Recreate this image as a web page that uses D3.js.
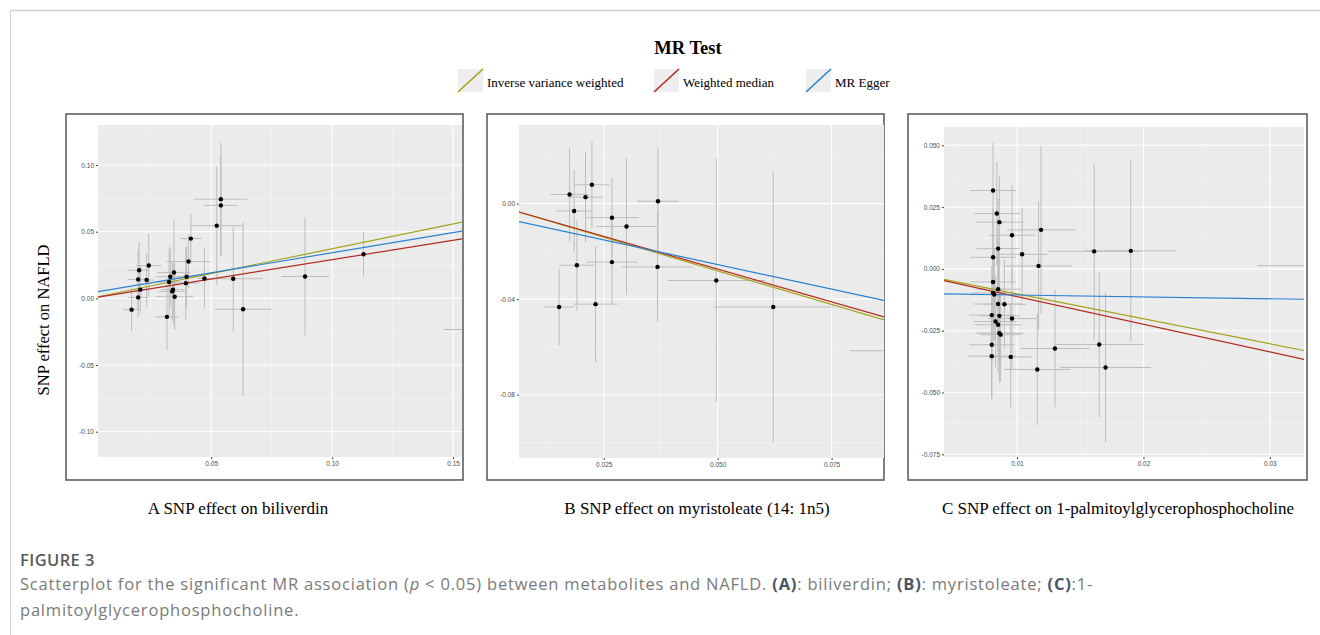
<!DOCTYPE html>
<html>
<head>
<meta charset="utf-8">
<script src="https://cdn.jsdelivr.net/npm/d3@7"></script>
<style>
  body { margin: 0; background: #fff; }
  svg { display: block; }
</style>
</head>
<body>
<div id="chart"></div>
<script>
// MR methods shown as lines in every panel
const methods = ["Inverse variance weighted", "Weighted median", "MR Egger"];
const methodColors = ["#a5a31a", "#b8281f", "#2a80d0"];

// panel A: biliverdin  (x = SNP effect on exposure, y = SNP effect on NAFLD)
const bilX  = [0.0171,0.0198,0.0202,0.0198,0.0207,0.0233,0.0242,0.0317,0.0326,0.0331,0.0339,0.0342,0.0346,0.0349,0.0395,0.0398,0.0406,0.0416,0.0472,0.0523,0.0540,0.0540,0.0591,0.0632,0.0888,0.1130,0.1660];
const bilY  = [-0.0085,0.0142,0.0211,0.0007,0.0065,0.0137,0.0246,-0.0139,0.0122,0.0162,0.0052,0.0065,0.0194,0.0012,0.0114,0.0162,0.0276,0.0448,0.0149,0.0545,0.0697,0.0744,0.0147,-0.0082,0.0164,0.0331,-0.0234];
const bilXe = [0.0035,0.0041,0.0044,0.0041,0.0035,0.0028,0.0052,0.0048,0.0055,0.0062,0.0055,0.0048,0.0069,0.0076,0.0055,0.0062,0.0090,0.0044,0.0028,0.0110,0.0069,0.0110,0.0124,0.0117,0.0099,0.0007,0.0200];
const bilYe = [0.0164,0.0224,0.0212,0.0149,0.0174,0.0199,0.0237,0.0249,0.0249,0.0224,0.0224,0.0199,0.0398,0.0249,0.0274,0.0224,0.0199,0.0187,0.0224,0.0448,0.0374,0.0423,0.0398,0.0652,0.0443,0.0169,0.0300];
const bilSlopes = [0.372, 0.290, 0.302];
const bilIntercepts = [0, 0, 0.0040];

// panel B: myristoleate (14:1n5)
const myrX  = [0.0175,0.0185,0.0210,0.0224,0.0191,0.0152,0.0232,0.0268,0.0268,0.0300,0.0369,0.0368,0.0497,0.0622,0.0920];
const myrY  = [0.0038,-0.0031,0.0027,0.0079,-0.0258,-0.0433,-0.0421,-0.0059,-0.0245,-0.0096,0.0010,-0.0265,-0.0322,-0.0433,-0.0616];
const myrXe = [0.0042,0.0040,0.0037,0.0038,0.0038,0.0033,0.0048,0.0059,0.0057,0.0066,0.0046,0.0078,0.0107,0.0132,0.0130];
const myrYe = [0.0195,0.0174,0.0190,0.0181,0.0190,0.0160,0.0244,0.0167,0.0178,0.0286,0.0223,0.0230,0.0509,0.0570,0.0300];
const myrSlopes = [-0.563, -0.548, -0.412];
const myrIntercepts = [0, 0, -0.0049];

// panel C: 1-palmitoylglycerophosphocholine
const palX  = [0.0081,0.0084,0.0086,0.0096,0.0085,0.0081,0.0119,0.0104,0.0117,0.0161,0.0190,0.0350,0.0081,0.0081,0.0082,0.0085,0.0085,0.0090,0.0080,0.0086,0.0096,0.0083,0.0085,0.0086,0.0087,0.0080,0.0080,0.0095,0.0130,0.0165,0.0116,0.0170];
const palY  = [0.0317,0.0224,0.0189,0.0136,0.0082,0.0047,0.0158,0.0059,0.0012,0.0071,0.0073,0.0013,-0.0053,-0.0097,-0.0104,-0.0082,-0.0142,-0.0143,-0.0187,-0.0190,-0.0201,-0.0213,-0.0226,-0.0260,-0.0266,-0.0307,-0.0353,-0.0356,-0.0322,-0.0306,-0.0407,-0.0399];
const palXe = [0.0018,0.0018,0.0019,0.0018,0.0017,0.0018,0.0027,0.0020,0.0026,0.0036,0.0036,0.0060,0.0018,0.0017,0.0019,0.0018,0.0019,0.0017,0.0018,0.0016,0.0019,0.0017,0.0018,0.0019,0.0016,0.0018,0.0019,0.0017,0.0027,0.0035,0.0026,0.0036];
const palYe = [0.0193,0.0209,0.0189,0.0202,0.0202,0.0202,0.0340,0.0189,0.0260,0.0356,0.0368,0.0300,0.0190,0.0200,0.0185,0.0210,0.0195,0.0180,0.0200,0.0190,0.0205,0.0185,0.0195,0.0200,0.0190,0.0205,0.0180,0.0210,0.0237,0.0294,0.0225,0.0303];
const palSlopes = [-1.01, -1.12, -0.076];
const palIntercepts = [0, 0, -0.0098];

// axis ranges and tick labels
const bilXDomain = [0.0032, 0.1537], bilYDomain = [-0.119, 0.130];
const bilXTicks = [0.05, 0.10, 0.15], bilXLabels = ["0.05", "0.10", "0.15"];
const bilYTicks = [-0.10, -0.05, 0, 0.05, 0.10], bilYLabels = ["-0.10", "-0.05", "0.00", "0.05", "0.10"];

const myrXDomain = [0.0064, 0.0865], myrYDomain = [-0.1065, 0.0329];
const myrXTicks = [0.025, 0.05, 0.075], myrXLabels = ["0.025", "0.050", "0.075"];
const myrYTicks = [-0.08, -0.04, 0], myrYLabels = ["-0.08", "-0.04", "0.00"];

const palXDomain = [0.00422, 0.0327], palYDomain = [-0.0761, 0.0574];
const palXTicks = [0.01, 0.02, 0.03], palXLabels = ["0.01", "0.02", "0.03"];
const palYTicks = [-0.075, -0.05, -0.025, 0, 0.025, 0.05], palYLabels = ["-0.075", "-0.050", "-0.025", "0.000", "0.025", "0.050"];

const panelTitles = ["A  SNP effect on biliverdin", "B SNP effect on myristoleate (14: 1n5)", "C SNP effect on 1-palmitoylglycerophosphocholine"];

// where each panel sits on the page
const panels = [
  {box: [66, 114, 397, 366], plot: [98, 125, 364, 332], titleX: 238,
   x: bilX, y: bilY, xe: bilXe, ye: bilYe, slopes: bilSlopes, ints: bilIntercepts,
   xd: bilXDomain, yd: bilYDomain, xt: bilXTicks, xl: bilXLabels, yt: bilYTicks, yl: bilYLabels},
  {box: [487, 114, 397, 366], plot: [519, 125, 365, 333], titleX: 697,
   x: myrX, y: myrY, xe: myrXe, ye: myrYe, slopes: myrSlopes, ints: myrIntercepts,
   xd: myrXDomain, yd: myrYDomain, xt: myrXTicks, xl: myrXLabels, yt: myrYTicks, yl: myrYLabels},
  {box: [908, 114, 399, 366], plot: [944, 127, 360, 330], titleX: 1118,
   x: palX, y: palY, xe: palXe, ye: palYe, slopes: palSlopes, ints: palIntercepts,
   xd: palXDomain, yd: palYDomain, xt: palXTicks, xl: palXLabels, yt: palYTicks, yl: palYLabels}
];

const W = 1320, H = 635;
const serif = "'Liberation Serif', 'Times New Roman', serif";
const sans = "'Liberation Sans', Arial, sans-serif";

const svg = d3.select("#chart").append("svg")
    .attr("width", W)
    .attr("height", H);

// page frame lines
svg.append("line").attr("x1", 10).attr("x2", W).attr("y1", 10.5).attr("y2", 10.5)
  .attr("stroke", "#cfcfcf").attr("stroke-width", 1.5);
svg.append("line").attr("x1", 10.5).attr("x2", 10.5).attr("y1", 10).attr("y2", H)
  .attr("stroke", "#d8d8d8").attr("stroke-width", 1);

// legend
svg.append("text")
  .attr("x", 688).attr("y", 54)
  .attr("text-anchor", "middle")
  .attr("font-family", serif).attr("font-weight", "bold").attr("font-size", 18.5)
  .text("MR Test");

const legendX = [458, 654, 806];
const legend = svg.append("g").selectAll("g")
  .data(methods)
  .join("g")
    .attr("transform", (d, i) => `translate(${legendX[i]},69)`);
legend.append("rect")
  .attr("width", 25).attr("height", 23).attr("fill", "#eeeeee");
legend.append("line")
  .attr("x1", 0).attr("y1", 23).attr("x2", 25).attr("y2", 0)
  .attr("stroke", (d, i) => methodColors[i]).attr("stroke-width", 1.6);
legend.append("text")
  .attr("x", 29).attr("y", 18)
  .attr("font-family", serif).attr("font-size", 13)
  .text(d => d);

// y axis title shared by all panels
svg.append("text")
  .attr("transform", "translate(49,320) rotate(-90)")
  .attr("text-anchor", "middle")
  .attr("font-family", serif).attr("font-size", 16.5)
  .text("SNP effect on NAFLD");

// minor grid = midpoints between the major ticks
function minors(ticks, domain) {
  const step = ticks[1] - ticks[0];
  const out = [];
  for (let i = -1; i < ticks.length; i++) {
    const v = ticks[0] + step * (i + 0.5);
    if (v > domain[0] && v < domain[1]) out.push(v);
  }
  return out;
}

panels.forEach((p, pi) => {
  const [bx, by, bw, bh] = p.box;
  const [px, py, pw, ph] = p.plot;

  svg.append("rect")
    .attr("x", bx).attr("y", by).attr("width", bw).attr("height", bh)
    .attr("fill", "#fff").attr("stroke", "#555").attr("stroke-width", 1.5);

  const xScale = d3.scaleLinear().domain(p.xd).range([px, px + pw]);
  const yScale = d3.scaleLinear().domain(p.yd).range([py + ph, py]);

  const clipId = "clip" + pi;
  svg.append("clipPath").attr("id", clipId)
    .append("rect").attr("x", px).attr("y", py).attr("width", pw).attr("height", ph);

  // gray panel
  svg.append("rect")
    .attr("x", px).attr("y", py).attr("width", pw).attr("height", ph)
    .attr("fill", "#ebebeb");

  const grid = svg.append("g");
  grid.selectAll(".minx").data(minors(p.xt, p.xd)).join("line")
    .attr("x1", d => xScale(d)).attr("x2", d => xScale(d))
    .attr("y1", py).attr("y2", py + ph)
    .attr("stroke", "#f6f6f6").attr("stroke-width", 0.6);
  grid.selectAll(".miny").data(minors(p.yt, p.yd)).join("line")
    .attr("y1", d => yScale(d)).attr("y2", d => yScale(d))
    .attr("x1", px).attr("x2", px + pw)
    .attr("stroke", "#f6f6f6").attr("stroke-width", 0.6);
  grid.selectAll(".majx").data(p.xt).join("line")
    .attr("x1", d => xScale(d)).attr("x2", d => xScale(d))
    .attr("y1", py).attr("y2", py + ph)
    .attr("stroke", "#fff").attr("stroke-width", 1.1);
  grid.selectAll(".majy").data(p.yt).join("line")
    .attr("y1", d => yScale(d)).attr("y2", d => yScale(d))
    .attr("x1", px).attr("x2", px + pw)
    .attr("stroke", "#fff").attr("stroke-width", 1.1);

  // axes with ggplot-like small ticks
  const xAxis = d3.axisBottom(xScale).tickValues(p.xt)
    .tickFormat((d, i) => p.xl[i]).tickSize(2).tickPadding(2);
  const yAxis = d3.axisLeft(yScale).tickValues(p.yt)
    .tickFormat((d, i) => p.yl[i]).tickSize(2).tickPadding(2);

  const gx = svg.append("g").attr("transform", `translate(0,${py + ph})`).call(xAxis);
  const gy = svg.append("g").attr("transform", `translate(${px},0)`).call(yAxis);
  [gx, gy].forEach(g => {
    g.select(".domain").remove();
    g.selectAll("line").attr("stroke", "#444");
    g.selectAll("text").attr("font-family", sans).attr("font-size", 6.5).attr("fill", "#4d4d4d");
  });

  const pts = p.x.map((v, i) => ({x: v, y: p.y[i], xe: p.xe[i], ye: p.ye[i]}));
  const plot = svg.append("g").attr("clip-path", `url(#${clipId})`);

  // error bars
  plot.selectAll(".eh").data(pts).join("line")
    .attr("x1", d => xScale(d.x - d.xe)).attr("x2", d => xScale(d.x + d.xe))
    .attr("y1", d => yScale(d.y)).attr("y2", d => yScale(d.y))
    .attr("stroke", "#bdbdbd").attr("stroke-width", 1);
  plot.selectAll(".ev").data(pts).join("line")
    .attr("x1", d => xScale(d.x)).attr("x2", d => xScale(d.x))
    .attr("y1", d => yScale(d.y - d.ye)).attr("y2", d => yScale(d.y + d.ye))
    .attr("stroke", "#bdbdbd").attr("stroke-width", 1);

  // method lines
  plot.selectAll(".mr").data(methods).join("line")
    .attr("x1", xScale(p.xd[0])).attr("x2", xScale(p.xd[1]))
    .attr("y1", (d, i) => yScale(p.ints[i] + p.slopes[i] * p.xd[0]))
    .attr("y2", (d, i) => yScale(p.ints[i] + p.slopes[i] * p.xd[1]))
    .attr("stroke", (d, i) => methodColors[i]).attr("stroke-width", 1.2);

  plot.selectAll("circle").data(pts).join("circle")
    .attr("cx", d => xScale(d.x)).attr("cy", d => yScale(d.y))
    .attr("r", 2.2).attr("fill", "#000");

  svg.append("text")
    .attr("x", p.titleX).attr("y", 514)
    .attr("text-anchor", "middle")
    .attr("font-family", serif).attr("font-size", 17)
    .text(panelTitles[pi]);
});

// figure caption
const capFont = "'Open Sans', 'Noto Sans', sans-serif";
svg.append("text")
  .attr("x", 20).attr("y", 566)
  .attr("font-family", capFont).attr("font-size", 16.5).attr("font-weight", 600)
  .attr("letter-spacing", 0.4)
  .attr("fill", "#5a5a5a")
  .text("FIGURE 3");

const cap1 = svg.append("text")
  .attr("x", 20).attr("y", 590)
  .attr("font-family", capFont).attr("font-size", 16.5).attr("letter-spacing", 0.8)
  .attr("fill", "#7a7a7a");
cap1.append("tspan").text("Scatterplot for the significant MR association (");
cap1.append("tspan").attr("font-style", "italic").text("p");
cap1.append("tspan").text(" < 0.05) between metabolites and NAFLD. ");
cap1.append("tspan").attr("font-weight", 700).attr("fill", "#4a5563").text("(A)");
cap1.append("tspan").text(": biliverdin; ");
cap1.append("tspan").attr("font-weight", 700).attr("fill", "#4a5563").text("(B)");
cap1.append("tspan").text(": myristoleate; ");
cap1.append("tspan").attr("font-weight", 700).attr("fill", "#4a5563").text("(C)");
cap1.append("tspan").text(":1-");

svg.append("text")
  .attr("x", 20).attr("y", 616)
  .attr("font-family", capFont).attr("font-size", 16.5).attr("letter-spacing", 0.8)
  .attr("fill", "#7a7a7a")
  .text("palmitoylglycerophosphocholine.");
</script>
</body>
</html>
